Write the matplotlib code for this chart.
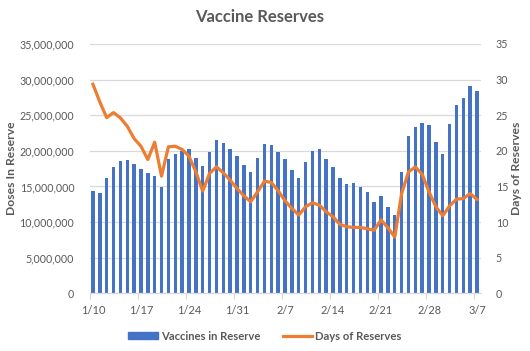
import numpy as np
import matplotlib.pyplot as plt
from matplotlib.patches import Patch
from matplotlib.lines import Line2D
from matplotlib.ticker import FuncFormatter

plt.rcParams["font.family"] = ["Lato", "DejaVu Sans"]

# daily values, 1/10 .. 3/7
start_month, start_day = 1, 10
doses_m = [
    14.35, 14.07, 16.17, 17.71, 18.55, 18.69, 18.13, 17.43, 16.87, 16.45,
    14.91, 18.83, 19.53, 20.0, 20.23, 18.97, 17.85, 19.81, 21.5, 21.07,
    20.23, 19.25, 17.99, 17.0, 18.97, 20.93, 20.79, 19.81, 18.83, 17.29,
    16.17, 18.41, 19.95, 20.23, 18.83, 17.71, 16.17, 15.33, 15.47, 14.91,
    14.21, 12.8, 13.63, 12.09, 10.97, 17.0, 22.04, 23.3, 23.86, 23.58,
    21.2, 19.52, 23.72, 26.38, 27.36, 29.04, 28.34,
]
days_of_reserve = [
    29.35, 26.87, 24.67, 25.37, 24.63, 23.46, 21.73, 20.65, 18.78, 21.21,
    16.45, 20.56, 20.65, 20.2, 19.25, 17.06, 14.35, 16.82, 17.76, 16.92,
    15.89, 14.72, 13.69, 12.85, 14.25, 15.75, 15.56, 14.4, 13.0, 11.92,
    10.98, 12.15, 12.71, 12.38, 11.45, 10.75, 9.67, 9.35, 9.25, 9.25,
    9.06, 8.85, 10.3, 9.2, 7.9, 14.0, 17.04, 17.74, 16.71, 14.24,
    12.14, 10.88, 12.28, 13.21, 13.31, 14.0, 13.17,
]
month_lengths = {1: 31, 2: 28, 3: 31}

labels = []
m, d = start_month, start_day
for _ in doses_m:
    labels.append(f"{m}/{d}")
    d += 1
    if d > month_lengths[m]:
        m, d = m + 1, 1

grey = "#595959"
grid = "#D9D9D9"
blue = "#4472C4"
orange = "#ED7D31"

fig = plt.figure(figsize=(5.3, 3.51), dpi=100)
ax = fig.add_axes([89.5 / 530, 1 - 293.3 / 351, 391 / 530, 249.3 / 351])
ax2 = ax.twinx()

x = np.arange(len(doses_m))
ax.bar(x, np.array(doses_m) * 1e6, width=0.5, color=blue, zorder=2)
ax2.plot(x, days_of_reserve, color=orange, lw=2.3, solid_joinstyle="round", zorder=3)

ax.set_xlim(-0.5, len(x) - 0.5)
ax.set_ylim(0, 35e6)
ax2.set_ylim(0, 35)
ax.set_yticks(np.arange(0, 35e6 + 1, 5e6))
ax2.set_yticks(np.arange(0, 36, 5))
ax.yaxis.set_major_formatter(FuncFormatter(lambda v, p: f"{v:,.0f}"))
ax.grid(axis="y", color=grid, lw=0.9, zorder=0)
ax.set_axisbelow(True)

tick_idx = x[::7]
ax.set_xticks(tick_idx)
ax.set_xticklabels([labels[i] for i in tick_idx])
ax.set_xticks(tick_idx - 0.5, minor=True)
ax.tick_params(axis="x", which="major", length=0, pad=8.5, labelsize=7.9, labelcolor=grey)
ax.tick_params(axis="x", which="minor", length=4, color=grid, width=0.9)
ax.tick_params(axis="y", length=0, pad=11, labelsize=7.7, labelcolor=grey)
ax2.tick_params(axis="y", length=0, pad=11, labelsize=7.7, labelcolor=grey)

for a in (ax, ax2):
    for s in a.spines.values():
        s.set_visible(False)
ax.spines["bottom"].set_visible(True)
ax.spines["bottom"].set_color(grid)
ax.spines["bottom"].set_linewidth(0.9)

fig.text(260 / 530, 1 - 17 / 351, "Vaccine Reserves", ha="center", va="center",
         fontsize=12, fontweight="bold", color=grey)
fig.text(12 / 530, 1 - 168 / 351, "Doses In Reserve", rotation=90, ha="center",
         va="center", fontsize=8.7, fontweight="bold", color=grey)
fig.text(517 / 530, 1 - 168 / 351, "Days of Reserves", rotation=90, ha="center",
         va="center", fontsize=8.7, fontweight="bold", color=grey)

handles = [Patch(color=blue), Line2D([0], [0], color=orange, lw=2.3)]
fig.legend(handles, ["Vaccines in Reserve", "Days of Reserves"], loc="center",
           bbox_to_anchor=(265 / 530, 1 - 336 / 351), ncol=2, frameon=False,
           prop={"size": 8.1, "weight": "bold"}, labelcolor=grey,
           handlelength=2.6, handleheight=0.6, handletextpad=0.3,
           columnspacing=2.0)

fig.savefig("out.png", dpi=100)
